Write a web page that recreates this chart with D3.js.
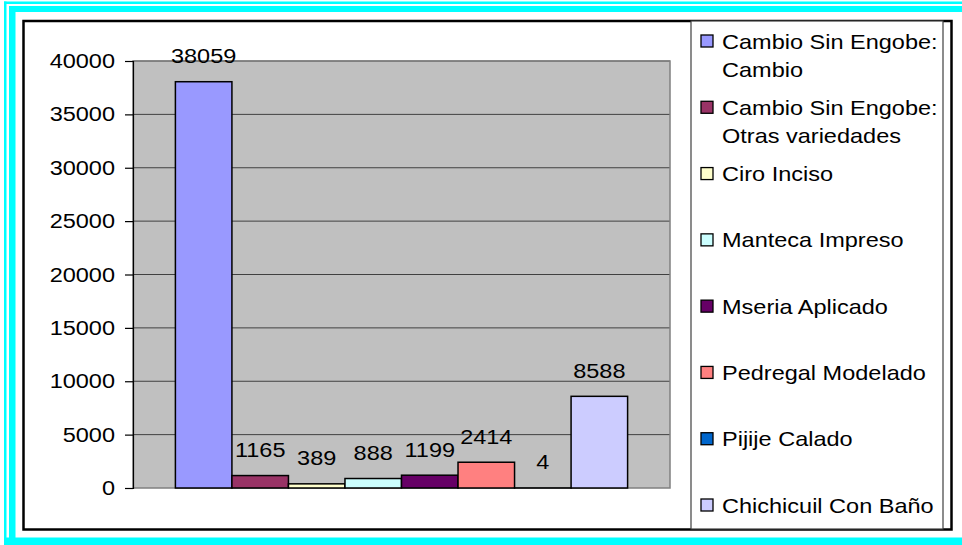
<!DOCTYPE html>
<html>
<head>
<meta charset="utf-8">
<script src="https://cdn.jsdelivr.net/npm/d3@7"></script>
<style>
  body { margin: 0; background: #fff; }
  svg text { font-family: "Liberation Sans", Arial, sans-serif; fill: #000; }
</style>
</head>
<body>
<div id="chart"></div>
<script>
// chart data
const seriesNames = [
  "Cambio Sin Engobe: Cambio",
  "Cambio Sin Engobe: Otras variedades",
  "Ciro Inciso",
  "Manteca Impreso",
  "Mseria Aplicado",
  "Pedregal Modelado",
  "Pijije Calado",
  "Chichicuil Con Baño"
];
const seriesValues = [38059, 1165, 389, 888, 1199, 2414, 4, 8588];
const categories = [""];
const yTickValues = [0, 5000, 10000, 15000, 20000, 25000, 30000, 35000, 40000];
const seriesColors = ["#9999FF", "#993366", "#FFFFCC", "#CCFFFF", "#660066", "#FF8080", "#0066CC", "#CCCCFF"];

class BarChart {

  constructor(_config) {
    this.config = {
      parentElement: _config.parentElement,
      containerWidth: _config.containerWidth || 962,
      containerHeight: _config.containerHeight || 545,
      plot: { left: 133, right: 670, top: 61, bottom: 488 },
      fontSize: "21px",
      stretch: 1.12
    };
    this.initVis();
  }

  initVis() {
    let vis = this;
    const p = vis.config.plot;

    vis.svg = d3.select(vis.config.parentElement)
      .append("svg")
        .attr("width", vis.config.containerWidth)
        .attr("height", vis.config.containerHeight);

    // double cyan frame (left, top, bottom)
    const frame = vis.svg.append("g").attr("fill", "#00FFFF");
    frame.append("rect").attr("x", 4).attr("y", 1.5).attr("width", 958).attr("height", 2.5);
    frame.append("rect").attr("x", 4).attr("y", 1.5).attr("width", 2.5).attr("height", 543);
    frame.append("rect").attr("x", 9).attr("y", 6).attr("width", 953).attr("height", 6);
    frame.append("rect").attr("x", 9).attr("y", 6).attr("width", 6.5).attr("height", 539);
    frame.append("rect").attr("x", 4).attr("y", 537.5).attr("width", 958).attr("height", 7.5);

    // chart area border
    vis.svg.append("rect")
      .attr("x", 23.5).attr("y", 21).attr("width", 928).attr("height", 508.5)
      .attr("fill", "#fff").attr("stroke", "#000").attr("stroke-width", 2.5);

    vis.x0 = d3.scaleBand()
      .domain(categories)
      .range([p.left, p.right])
      .paddingInner(0)
      .paddingOuter(0.75 / seriesNames.length);

    vis.x1 = d3.scaleBand()
      .domain(seriesNames)
      .range([0, vis.x0.bandwidth()]);

    vis.y = d3.scaleLinear()
      .domain([0, 40000])
      .range([p.bottom, p.top]);

    vis.color = d3.scaleOrdinal()
      .domain(seriesNames)
      .range(seriesColors);

    // plot background
    vis.svg.append("rect")
      .attr("x", p.left).attr("y", p.top)
      .attr("width", p.right - p.left).attr("height", p.bottom - p.top)
      .attr("fill", "#C0C0C0");

    // gridlines
    vis.svg.append("g")
      .selectAll("line")
      .data(yTickValues.filter(d => d > 0))
      .join("line")
        .attr("x1", p.left).attr("x2", p.right)
        .attr("y1", d => vis.y(d)).attr("y2", d => vis.y(d))
        .attr("stroke", "#404040").attr("stroke-width", 1);

    vis.svg.append("rect")
      .attr("x", p.left).attr("y", p.top)
      .attr("width", p.right - p.left).attr("height", p.bottom - p.top)
      .attr("fill", "none").attr("stroke", "#808080").attr("stroke-width", 1.5);

    vis.renderVis();
  }

  renderVis() {
    let vis = this;
    const p = vis.config.plot;
    const s = vis.config.stretch;

    const group = vis.svg.append("g")
      .selectAll("g")
      .data(categories)
      .join("g")
        .attr("transform", d => `translate(${vis.x0(d)},0)`);

    const rows = seriesNames.map((name, i) => ({ name: name, value: seriesValues[i] }));

    // bars
    group.selectAll("rect")
      .data(rows)
      .join("rect")
        .attr("x", d => vis.x1(d.name))
        .attr("y", d => vis.y(d.value))
        .attr("width", vis.x1.bandwidth())
        .attr("height", d => vis.y(0) - vis.y(d.value))
        .attr("fill", d => vis.color(d.name))
        .attr("stroke", "#000")
        .attr("stroke-width", 1.5);

    // value labels
    group.selectAll("text")
      .data(rows)
      .join("text")
        .attr("text-anchor", "middle")
        .attr("font-size", vis.config.fontSize)
        .attr("transform", d => `translate(${vis.x1(d.name) + vis.x1.bandwidth() / 2},${vis.y(d.value) - 18.5}) scale(${s},1)`)
        .text(d => d.value);

    // y axis
    const yAxis = d3.axisLeft(vis.y)
      .tickValues(yTickValues)
      .tickSize(8)
      .tickFormat(d => d);

    const axisG = vis.svg.append("g")
      .attr("transform", `translate(${p.left},0)`)
      .call(yAxis);
    axisG.select(".domain").attr("stroke", "#000").attr("stroke-width", 1.2);
    axisG.selectAll(".tick line").attr("stroke", "#000").attr("stroke-width", 1.2);
    axisG.selectAll(".tick text")
      .attr("x", null).attr("dy", null)
      .attr("font-size", vis.config.fontSize)
      .attr("font-family", null)
      .attr("transform", `translate(-18,6.5) scale(${s},1)`);

    // legend
    const legend = vis.svg.append("g");
    legend.append("rect")
      .attr("x", 691).attr("y", 21).attr("width", 252).attr("height", 508)
      .attr("fill", "#fff").attr("stroke", "#404040").attr("stroke-width", 1.2);

    const ly = d3.scaleLinear().domain([0, seriesNames.length - 1]).range([41, 505]);

    const items = legend.selectAll(".item")
      .data(seriesNames)
      .join("g")
        .attr("class", "item")
        .attr("transform", (d, i) => `translate(0,${ly(i)})`);

    items.append("rect")
      .attr("x", 701).attr("y", -6).attr("width", 12).attr("height", 12)
      .attr("fill", d => vis.color(d))
      .attr("stroke", "#000").attr("stroke-width", 1.3);

    items.each(function(d) {
      const lines = d.includes(": ") ? [d.split(": ")[0] + ":", d.split(": ")[1]] : [d];
      d3.select(this).selectAll("text")
        .data(lines)
        .join("text")
          .attr("font-size", vis.config.fontSize)
          .attr("transform", (t, j) => `translate(722,${7.5 + j * 28.5}) scale(${s},1)`)
          .text(t => t);
    });
  }
}

const chart = new BarChart({ parentElement: "#chart" });
</script>
</body>
</html>
